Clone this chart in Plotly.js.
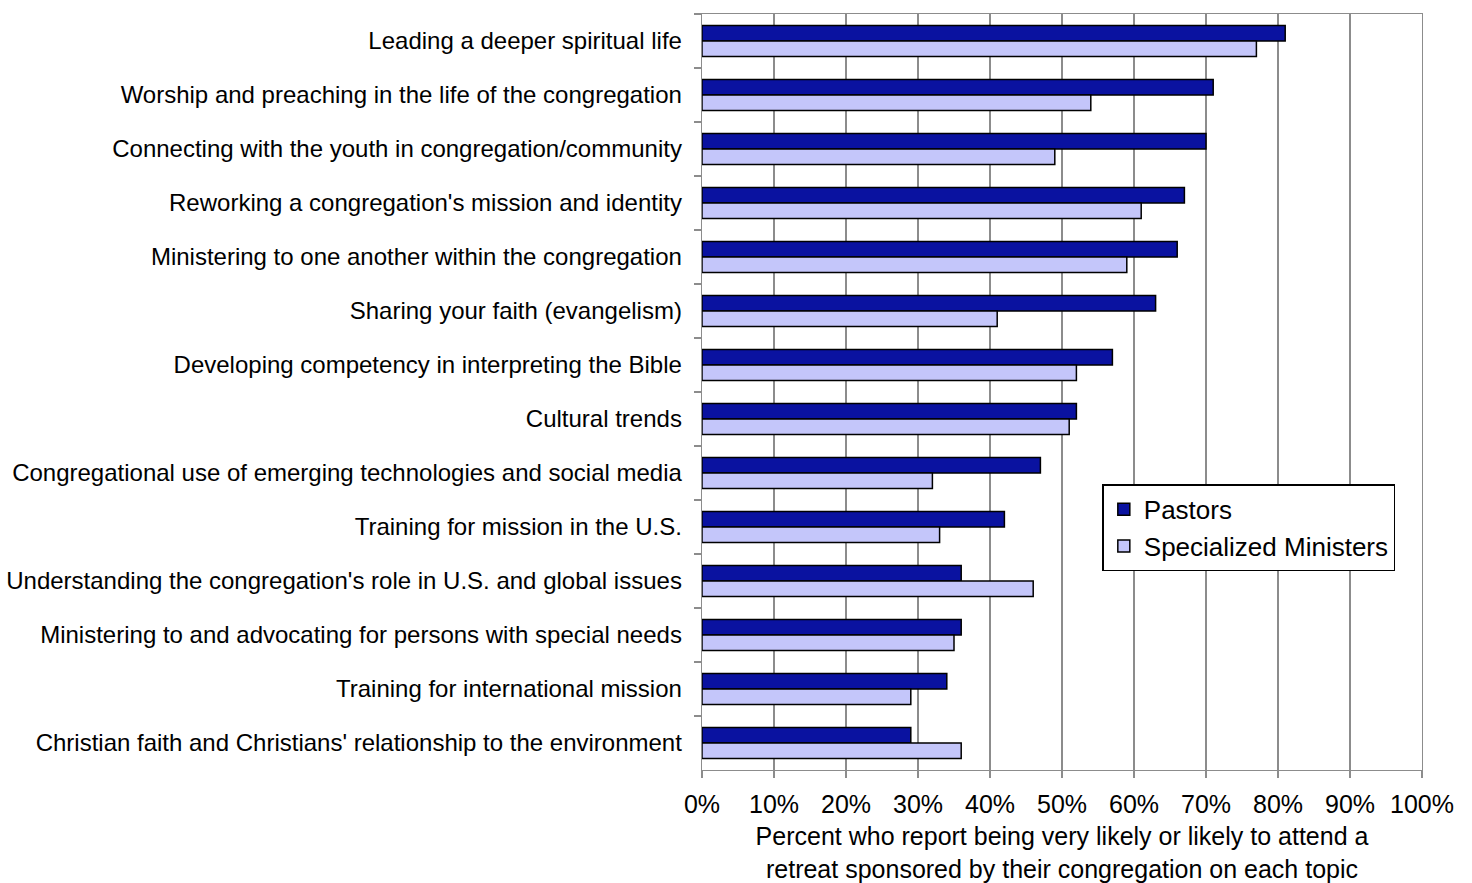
<!DOCTYPE html>
<html>
<head>
<meta charset="utf-8">
<script src="https://cdn.plot.ly/plotly-3.0.1.min.js"></script>
<style>html,body{margin:0;padding:0;background:#fff;}#chart{width:1472px;height:883px;}</style>
</head>
<body>
<div id="chart"></div>
<script>
const categories = [
  "Leading a deeper spiritual life",
  "Worship and preaching in the life of the congregation",
  "Connecting with the youth in congregation/community",
  "Reworking a congregation's mission and identity",
  "Ministering to one another within the congregation",
  "Sharing your faith (evangelism)",
  "Developing competency in interpreting the Bible",
  "Cultural trends",
  "Congregational use of emerging technologies and social media",
  "Training for mission in the U.S.",
  "Understanding the congregation's role in U.S. and global issues",
  "Ministering to and advocating for persons with special needs",
  "Training for international mission",
  "Christian faith and Christians' relationship to the environment"
];
const pastors = [81, 71, 70, 67, 66, 63, 57, 52, 47, 42, 36, 36, 34, 29];
const specialized = [77, 54, 49, 61, 59, 41, 52, 51, 32, 33, 46, 35, 29, 36];
const seriesNames = ["Pastors", "Specialized Ministers"];
const xTicks = [0, 10, 20, 30, 40, 50, 60, 70, 80, 90, 100];
const xTickLabels = ["0%", "10%", "20%", "30%", "40%", "50%", "60%", "70%", "80%", "90%", "100%"];

const FONT = "Arial, 'Liberation Sans', sans-serif";
const traces = [
  {type: "bar", orientation: "h", name: seriesNames[0], y: categories, x: pastors,
   marker: {color: "#0a12a0", line: {color: "#000", width: 1.5}}},
  {type: "bar", orientation: "h", name: seriesNames[1], y: categories, x: specialized,
   marker: {color: "#c4c6fa", line: {color: "#000", width: 1.5}}}
];
const layout = {
  width: 1472, height: 883,
  margin: {l: 702, r: 50, t: 14, b: 113},
  paper_bgcolor: "#fff", plot_bgcolor: "#fff",
  font: {family: FONT, size: 24, color: "#000"},
  barmode: "group", bargap: 0.43, bargroupgap: 0,
  showlegend: true,
  legend: {x: 0.556, y: 0.378, xanchor: "left", yanchor: "top",
    bgcolor: "#fff", bordercolor: "#000", borderwidth: 1.5,
    font: {family: FONT, size: 26, color: "#000"}, traceorder: "normal",
    itemwidth: 30, entrywidth: 280, entrywidthmode: "pixels"},
  xaxis: {range: [0, 100], tickmode: "array", tickvals: xTicks, ticktext: xTickLabels, showgrid: true,
    gridcolor: "#8c8c8c", gridwidth: 1.3, zeroline: false,
    showline: true, linecolor: "#8c8c8c", linewidth: 1.3, mirror: true,
    ticks: "outside", ticklen: 7, tickcolor: "#8c8c8c", tickwidth: 1.3,
    tickfont: {family: FONT, size: 25, color: "#000"}, ticklabelstandoff: 5,
    title: {text: "Percent who report being very likely or likely to attend a<br>retreat sponsored by their congregation on each topic",
      font: {family: FONT, size: 25, color: "#000"}, standoff: 16},
    fixedrange: true},
  yaxis: {type: "category", autorange: "reversed", showgrid: false, zeroline: false,
    showline: true, linecolor: "#8c8c8c", linewidth: 1.3, mirror: true,
    ticks: "outside", tickson: "boundaries", ticklen: 7, tickcolor: "#8c8c8c", tickwidth: 1.3,
    tickfont: {family: FONT, size: 24, color: "#000"}, ticklabelstandoff: 14,
    automargin: false, fixedrange: true}
};
Plotly.newPlot("chart", traces, layout, {displayModeBar: false, staticPlot: true});
</script>
</body>
</html>
